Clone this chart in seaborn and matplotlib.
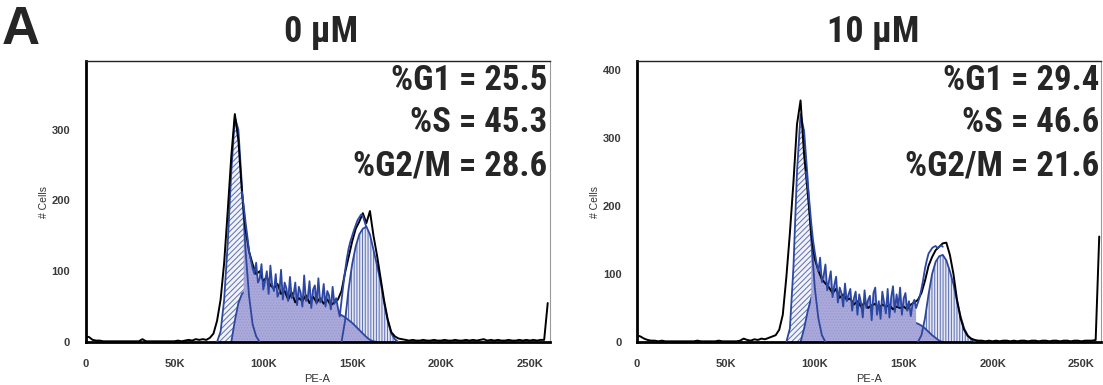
import numpy as np
import pandas as pd
import matplotlib
matplotlib.use("Agg")
import matplotlib.pyplot as plt
from matplotlib import font_manager
from matplotlib.ticker import MultipleLocator, FixedLocator
import seaborn as sns

# ---------------- data (PE-A in thousands, counts = # Cells) ----------------
panel_titles = ["0 µM", "10 µM"]
stats_labels = ["%G1", "%S", "%G2/M"]
stats_0uM = [25.5, 45.3, 28.6]
stats_10uM = [29.4, 46.6, 21.6]
x_ticks = [0, 50, 100, 150, 200, 250]
x_tick_labels = ["0", "50K", "100K", "150K", "200K", "250K"]
y_ticks_0uM = [0, 100, 200, 300]
y_ticks_10uM = [0, 100, 200, 300, 400]

# measured histogram (black), 2K bins starting at 0
data_0uM = [8, 7, 3, 2, 2, 1, 1, 1, 1, 1, 1, 1, 1, 1, 1, 1, 4, 1, 1, 1,
            1, 1, 1, 1, 1, 1, 2, 1, 2, 3, 2, 4, 3, 4, 3, 6, 12, 30, 60, 112,
            185, 262, 322, 285, 212, 160, 128, 110, 96, 100, 86, 92, 80, 76, 82, 68, 72, 60, 70, 56,
            62, 58, 66, 55, 64, 56, 62, 54, 60, 52, 56, 60, 72, 98, 120, 142, 160, 170, 182, 168,
            185, 150, 122, 90, 58, 32, 14, 8, 5, 4, 3, 2, 3, 2, 2, 3, 2, 2, 3, 2,
            2, 3, 2, 2, 3, 2, 2, 3, 2, 3, 2, 3, 4, 2, 3, 2, 3, 2, 2, 3,
            2, 2, 3, 2, 3, 2, 3, 2, 3, 3, 55]
data_10uM = [10, 8, 5, 3, 2, 2, 1, 2, 1, 1, 1, 1, 1, 1, 1, 1, 1, 2, 1, 1,
             1, 1, 1, 2, 1, 1, 1, 1, 1, 2, 5, 3, 2, 4, 3, 5, 4, 6, 8, 10,
             18, 40, 95, 160, 235, 320, 355, 275, 220, 160, 122, 105, 92, 86, 80, 72, 78, 65, 70, 62,
             64, 55, 60, 52, 58, 50, 54, 56, 50, 55, 52, 54, 48, 52, 50, 52, 48, 55, 58, 62,
             72, 90, 112, 125, 135, 140, 145, 146, 128, 100, 62, 35, 18, 9, 5, 3, 2, 2, 1, 2,
             1, 2, 1, 2, 2, 1, 2, 1, 2, 2, 1, 2, 2, 1, 2, 2, 1, 2, 2, 1,
             2, 2, 1, 2, 2, 1, 2, 2, 2, 3, 155]

# jagged blue trace (S-phase portion of the data), 1K bins
blue_start_0uM = 88
blue_0uM = [212, 192, 170, 150, 128, 116, 104, 96, 112, 84, 90, 110, 74, 86, 100, 68, 108, 80, 72, 96,
            64, 70, 102, 60, 84, 76, 58, 92, 62, 66, 84, 52, 78, 70, 50, 94, 58, 62, 86, 48,
            74, 80, 54, 90, 56, 60, 82, 50, 72, 66, 46, 78, 54, 62, 48, 36, 58, 80, 100, 118,
            132, 142, 150, 158, 165, 172, 176, 180, 178, 170, 162]
blue_fill_0uM = (89, 143)
blue_start_10uM = 95
blue_10uM = [250, 232, 205, 175, 150, 132, 116, 104, 124, 88, 98, 114, 76, 90, 104, 66, 84, 96, 58, 80,
             72, 52, 86, 60, 70, 78, 46, 64, 74, 40, 70, 58, 36, 76, 50, 62, 68, 32, 72, 80,
             40, 60, 34, 74, 58, 42, 78, 36, 66, 82, 44, 70, 52, 80, 40, 64, 72, 46, 60, 38,
             56, 62, 50, 58, 66, 78, 92, 108, 120, 130, 134, 138, 140, 141, 138, 140, 142, 140]
blue_fill_10uM = (98, 157)

# model components, 2K bins
g1_start_0uM = 74
g1_0uM = [0, 15, 60, 140, 240, 318, 300, 220, 130, 65, 25, 8, 0]
s_start_0uM = 82
s_0uM = [0, 30, 55, 68, 72, 74, 74, 73, 72, 70, 69, 67, 65, 63, 61, 59, 57, 55, 53, 51,
         50, 49, 48, 47, 46, 45, 44, 43, 42, 41, 40, 38, 35, 31, 27, 22, 17, 12, 7, 3, 1, 0]
g2_start_0uM = 144
g2_0uM = [0, 30, 75, 110, 135, 152, 160, 163, 152, 130, 108, 85, 55, 30, 12, 4, 0]

g1_start_10uM = 84
g1_10uM = [0, 20, 110, 250, 335, 310, 240, 150, 80, 35, 10, 0]
s_start_10uM = 92
s_10uM = [0, 20, 45, 65, 75, 76, 75, 73, 70, 67, 64, 61, 58, 55, 52, 50, 48, 46, 44, 43,
          42, 41, 40, 39, 38, 37, 36, 35, 34, 33, 32, 31, 29, 27, 24, 20, 15, 10, 6, 2, 0]
g2_start_10uM = 158
g2_10uM = [0, 10, 35, 70, 100, 118, 126, 128, 120, 104, 85, 60, 38, 20, 10, 4, 0]

# ---------------- fonts ----------------
names = {f.name for f in font_manager.fontManager.ttflist}
narrow = next((n for n in ["Liberation Sans Narrow", "Arial Narrow", "Roboto Condensed",
                           "Archivo Narrow", "PT Sans Narrow", "Open Sans Condensed",
                           "Barlow Condensed", "Liberation Sans"] if n in names), "DejaVu Sans")
regular = "Liberation Sans" if "Liberation Sans" in names else "DejaVu Sans"

sns.set_style("white")
plt.rcParams["font.family"] = [regular, "DejaVu Sans"]
plt.rcParams["hatch.linewidth"] = 0.7

W, H = 1103, 385
fig = plt.figure(figsize=(W / 100, H / 100), dpi=100)
fig.patch.set_facecolor("white")

OUT = "#2c479e"
HATCH = "#5b6fb0"
SFILL = "#abaadb"

panels = [
    dict(title=panel_titles[0], stats=stats_0uM, data=data_0uM, blue=blue_0uM, bstart=blue_start_0uM,
         bfill=blue_fill_0uM, g1=g1_0uM, g1s=g1_start_0uM, s=s_0uM, ss=s_start_0uM, g2=g2_0uM,
         g2s=g2_start_0uM, left=85.5, top=397, yt=y_ticks_0uM),
    dict(title=panel_titles[1], stats=stats_10uM, data=data_10uM, blue=blue_10uM, bstart=blue_start_10uM,
         bfill=blue_fill_10uM, g1=g1_10uM, g1s=g1_start_10uM, s=s_10uM, ss=s_start_10uM, g2=g2_10uM,
         g2s=g2_start_10uM, left=637, top=413, yt=y_ticks_10uM),
]


def comp_df(vals, start, step):
    return pd.DataFrame({"x": start + step * np.arange(len(vals)), "y": vals})


ax_bottom_px, ax_top_px = 342, 61
for p in panels:
    ax = fig.add_axes([p["left"] / W, 1 - ax_bottom_px / H, 464 / W, (ax_bottom_px - ax_top_px) / H])
    ax.set_facecolor("white")

    g1 = comp_df(p["g1"], p["g1s"], 2)
    g2 = comp_df(p["g2"], p["g2s"], 2)
    s = comp_df(p["s"], p["ss"], 2)
    d = comp_df(p["data"], 0, 2)
    b = comp_df(p["blue"], p["bstart"], 1)

    # G1 component: diagonal hatch
    ax.fill_between(g1.x, 0, g1.y, facecolor="#f1f2fa", edgecolor=HATCH, hatch="//////", linewidth=0, zorder=1)
    # G2 component: vertical hatch
    ax.fill_between(g2.x, 0, g2.y, facecolor="#e4e6f3", edgecolor=HATCH, hatch="||||||", linewidth=0, zorder=1)
    # S component: lavender fill + outline (partly hidden by the data fill)
    ax.fill_between(s.x, 0, s.y, facecolor=SFILL, edgecolor="#9898cf", hatch="......", linewidth=0, zorder=1.2)
    sns.lineplot(data=s, x="x", y="y", ax=ax, color=OUT, lw=1.3, zorder=1.4, estimator=None)
    # S-phase portion of data: lavender fill under the jagged trace
    lo, hi = p["bfill"]
    m = (b.x >= lo) & (b.x <= hi)
    ax.fill_between(b.x[m], 0, b.y[m], facecolor=SFILL, edgecolor="#9898cf", hatch="......",
                    linewidth=0, zorder=2)
    for comp in (g1, g2):
        sns.lineplot(data=comp, x="x", y="y", ax=ax, color=OUT, lw=1.3, zorder=3, estimator=None)

    sns.lineplot(data=d, x="x", y="y", ax=ax, color="black", lw=1.4, zorder=4, estimator=None)
    sns.lineplot(data=b, x="x", y="y", ax=ax, color="#2b47a2", lw=1.3, zorder=5, estimator=None)

    ax.set_xlim(0, 261)
    ax.set_ylim(0, p["top"])
    ax.xaxis.set_major_locator(FixedLocator(x_ticks))
    ax.set_xticklabels(x_tick_labels)
    ax.xaxis.set_minor_locator(MultipleLocator(10))
    ax.yaxis.set_major_locator(FixedLocator(p["yt"]))
    ax.set_yticklabels([str(v) for v in p["yt"]])
    ax.tick_params(axis="both", which="major", direction="out", length=6, width=1.4, color="black",
                   labelsize=8, labelcolor="#3a3a3a", pad=6)
    ax.tick_params(axis="x", which="minor", direction="out", length=4, width=1.2, color="black")
    ax.tick_params(axis="y", which="major", length=5, width=1.0, color="#333333")
    for lab in ax.get_xticklabels() + ax.get_yticklabels():
        lab.set_fontweight("bold")
    ax.set_xlabel("PE-A", fontsize=8, color="#333333", labelpad=4)
    ax.set_ylabel("# Cells", fontsize=7.5, color="#333333", labelpad=2)
    for side in ("left", "bottom"):
        ax.spines[side].set_visible(True)
        ax.spines[side].set_color("black")
        ax.spines[side].set_linewidth(2.0)
    ax.spines["top"].set_color("#222222")
    ax.spines["top"].set_linewidth(1.0)
    ax.spines["right"].set_color("#9a9a9a")
    ax.spines["right"].set_linewidth(0.8)
    ax.grid(False)

    cx = (p["left"] + 236) / W
    fig.text(cx, 1 - 32 / H, p["title"], ha="center", va="center", fontsize=26,
             fontweight="bold", family=[narrow, "DejaVu Sans"])
    right_px = p["left"] + 462
    for lab, val, ypx in zip(stats_labels, p["stats"], [80, 123, 166]):
        fig.text(right_px / W, 1 - ypx / H, f"{lab} = {val}", ha="right", va="center",
                 fontsize=25, fontweight="bold", family=[narrow, "DejaVu Sans"])

fig.text(2 / W, 1 - 30 / H, "A", ha="left", va="center", fontsize=38, fontweight="bold",
         family=[regular, "DejaVu Sans"])

fig.savefig("out.png", dpi=100, facecolor="white")
